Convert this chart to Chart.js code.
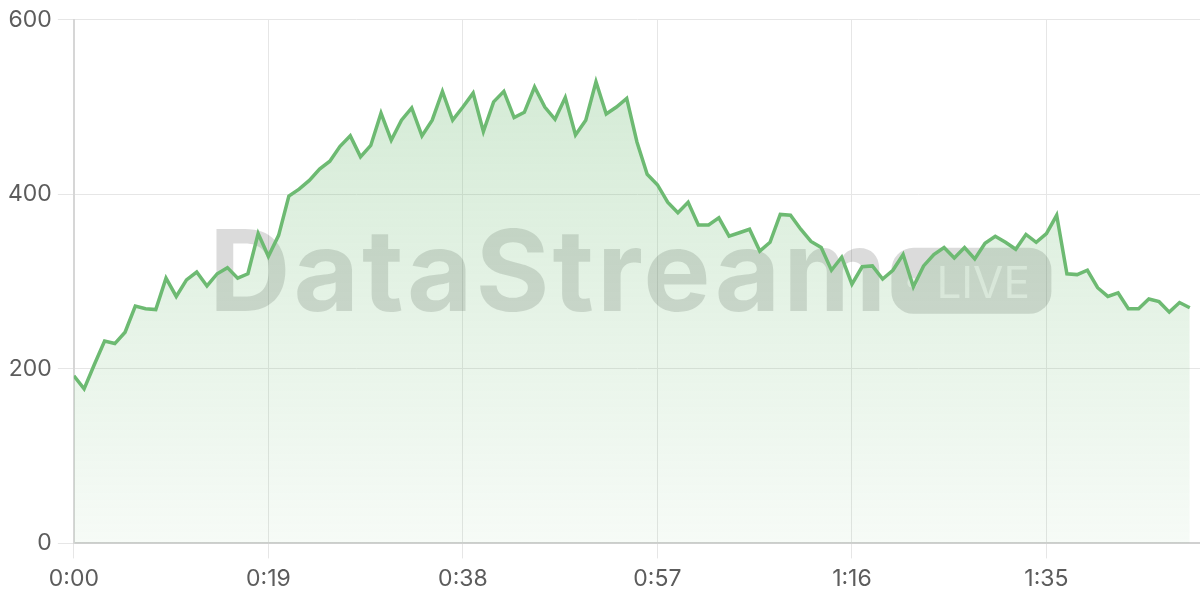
<!DOCTYPE html>
<html lang="en">
<head>
  <meta charset="UTF-8">
  <title>DataStream LIVE</title>
  <script src="https://cdn.jsdelivr.net/npm/chart.js"></script>
  <style>
    html, body { margin: 0; padding: 0; background: #fff; }
    #wrap { width: 1200px; height: 600px; }
  </style>
</head>
<body>
  <div id="wrap"><canvas id="streamChart"></canvas></div>

  <script>
    // values, one per second
    const values = [
      192, 177, 205, 232, 229, 242, 272, 269, 268, 304, 283, 302, 311, 295, 309, 316, 304, 309, 355, 329,
      353, 398, 406, 416, 429, 438, 455, 467, 443, 456, 493, 462, 485, 499, 467, 485, 518, 485, 500, 516,
      472, 506, 518, 488, 494, 523, 500, 486, 511, 468, 485, 529, 492, 500, 510, 460, 423, 411, 391, 379,
      391, 365, 365, 373, 352, 356, 360, 335, 345, 377, 376, 360, 346, 339, 313, 328, 297, 317, 318, 303,
      313, 331, 294, 318, 331, 339, 327, 339, 326, 344, 352, 345, 337, 354, 345, 355, 376, 309, 308, 313,
      293, 283, 287, 269, 269, 280, 277, 265, 276, 270
    ];
    const tickSeconds = [0, 19, 38, 57, 76, 95];
    const tickLabels = ["0:00", "0:19", "0:38", "0:57", "1:16", "1:35"];
    const yTicks = [0, 200, 400, 600];

    const points = values.map((v, i) => ({ x: i, y: v }));

    // big grey watermark behind the line
    const watermark = {
      id: "watermark",
      beforeDatasetsDraw(chart) {
        const { ctx, chartArea: a } = chart;
        const x0 = a.left + 135, base = a.top + 291;
        ctx.save();
        ctx.font = "bold 113px Inter";
        ctx.letterSpacing = "3px";
        ctx.fillStyle = "rgba(0,0,0,0.14)";
        ctx.textBaseline = "alphabetic";
        ctx.fillText("DataStream", x0, base);
        const w = ctx.measureText("DataStream").width;
        ctx.letterSpacing = "0px";
        const bx = x0 + w + 2, by = base - 63, bw = 160, bh = 66;
        ctx.beginPath();
        ctx.roundRect(bx, by, bw, bh, 22);
        ctx.fill();
        ctx.fillStyle = "rgba(255,255,255,0.6)";
        ctx.beginPath();
        ctx.arc(bx + 21, by + 35, 5, 0, Math.PI * 2);
        ctx.fill();
        ctx.font = "44px Inter";
        ctx.fillText("LIVE", bx + 45, by + 50);
        ctx.restore();
      }
    };

    new Chart(document.getElementById("streamChart"), {
      type: "line",
      data: {
        datasets: [{
          data: points,
          borderColor: "#6dba72",
          borderWidth: 3.5,
          pointRadius: 0,
          tension: 0,
          fill: "origin",
          backgroundColor: (c) => {
            const a = c.chart.chartArea;
            if (!a) return "rgba(109,186,114,0.15)";
            const g = c.chart.ctx.createLinearGradient(0, a.top, 0, a.bottom);
            g.addColorStop(0, "rgba(109,186,114,0.32)");
            g.addColorStop(1, "rgba(109,186,114,0.06)");
            return g;
          }
        }]
      },
      options: {
        responsive: true,
        maintainAspectRatio: false,
        animation: false,
        layout: { padding: { top: 6, right: 0, bottom: 0, left: 2 } },
        plugins: { legend: { display: false }, tooltip: { enabled: false } },
        scales: {
          x: {
            type: "linear",
            min: 0,
            max: 110,
            afterBuildTicks: (s) => { s.ticks = tickSeconds.map(v => ({ value: v })); },
            ticks: {
              callback: (v) => tickLabels[tickSeconds.indexOf(v)],
              color: "#5c5c5c",
              font: { family: "Inter", size: 23 },
              padding: 7,
              maxRotation: 0
            },
            grid: { color: "#e6e6e6", tickLength: 15 },
            border: { color: "#d0d0d0", width: 2 }
          },
          y: {
            min: 0,
            max: 600,
            afterBuildTicks: (s) => { s.ticks = yTicks.map(v => ({ value: v })); },
            ticks: {
              color: "#5c5c5c",
              font: { family: "Inter", size: 23 },
              padding: 6
            },
            grid: { color: "#e6e6e6", tickLength: 16 },
            border: { color: "#d6d6d6", width: 2 }
          }
        }
      },
      plugins: [watermark]
    });
  </script>
</body>
</html>
